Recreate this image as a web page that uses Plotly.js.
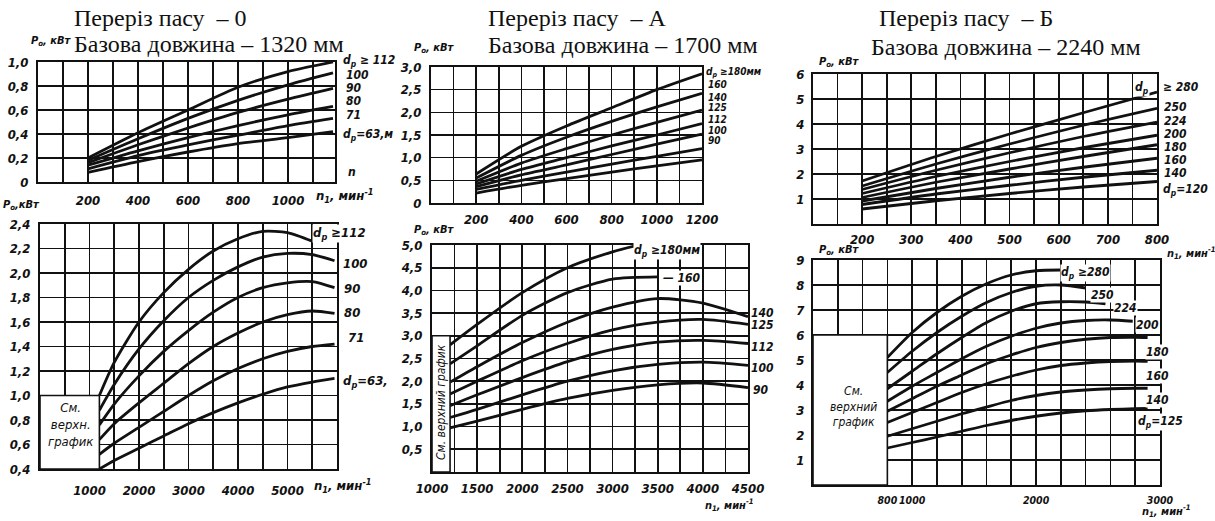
<!DOCTYPE html>
<html><head><meta charset="utf-8">
<script src="https://cdn.plot.ly/plotly-3.0.1.min.js"></script>
<style>html,body{margin:0;padding:0;background:#fff}#c{width:1215px;height:521px}</style>
</head><body><div id="c"></div>
<script>
// ---------- DATA ----------
// Panel "0" top (n1 200..1200)
const nTL = [200, 400, 600, 800, 1000, 1180];
const tl112 = [0.20, 0.41, 0.60, 0.79, 0.92, 1.00];
const tl100 = [0.18, 0.36, 0.53, 0.68, 0.81, 0.91];
const tl90  = [0.16, 0.31, 0.45, 0.58, 0.69, 0.78];
const tl80  = [0.14, 0.26, 0.37, 0.47, 0.56, 0.63];
const tl71  = [0.11, 0.22, 0.31, 0.39, 0.47, 0.53];
const tl63  = [0.08, 0.17, 0.25, 0.32, 0.37, 0.42];
// Panel "0" bottom
const nBL = [1200, 1500, 2000, 2500, 3000, 3500, 4000, 4500, 5000, 5500, 5950];
const bl112 = [1.00, 1.27, 1.60, 1.84, 2.03, 2.18, 2.28, 2.34, 2.33, 2.26, null];
const bl100 = [0.88, 1.09, 1.38, 1.61, 1.80, 1.94, 2.05, 2.13, 2.16, 2.15, 2.10];
const bl90  = [0.76, 0.93, 1.16, 1.36, 1.53, 1.68, 1.80, 1.88, 1.92, 1.93, 1.88];
const bl80  = [0.64, 0.77, 0.94, 1.10, 1.26, 1.40, 1.51, 1.60, 1.66, 1.69, 1.67];
const bl71  = [0.52, 0.61, 0.74, 0.87, 1.00, 1.12, 1.22, 1.30, 1.36, 1.40, 1.42];
const bl63  = [0.40, 0.47, 0.57, 0.67, 0.77, 0.86, 0.94, 1.01, 1.07, 1.11, 1.14];
// Panel "A" top
const nTM = [200, 400, 600, 800, 1000, 1200];
const tm180 = [0.64, 1.25, 1.70, 2.10, 2.50, 2.85];
const tm160 = [0.55, 1.05, 1.45, 1.80, 2.12, 2.42];
const tm140 = [0.48, 0.88, 1.20, 1.50, 1.78, 2.05];
const tm125 = [0.42, 0.74, 1.00, 1.26, 1.50, 1.75];
const tm112 = [0.36, 0.62, 0.84, 1.07, 1.30, 1.52];
const tm100 = [0.30, 0.50, 0.68, 0.86, 1.03, 1.20];
const tm90  = [0.22, 0.39, 0.54, 0.68, 0.82, 0.95];
// Panel "A" bottom
const nBM = [1200, 1500, 2000, 2500, 3000, 3500, 4000, 4500];
const nBM180 = [1200, 1500, 2000, 2500, 3000, 3250];
const bm180 = [2.80, 3.25, 3.95, 4.50, 4.85, 4.98];
const bm160 = [2.38, 2.78, 3.45, 3.95, 4.25, 4.30, null, null];
const bm140 = [1.98, 2.32, 2.85, 3.30, 3.63, 3.82, 3.72, 3.42];
const bm125 = [1.72, 2.00, 2.45, 2.83, 3.13, 3.30, 3.36, 3.25];
const bm112 = [1.46, 1.70, 2.08, 2.43, 2.70, 2.86, 2.90, 2.83];
const bm100 = [1.20, 1.38, 1.70, 2.00, 2.23, 2.37, 2.42, 2.35];
const bm90  = [0.97, 1.12, 1.38, 1.62, 1.80, 1.92, 1.96, 1.86];
// Panel "Б" top
const nTR = [200, 350, 500, 650, 800];
const tr280 = [1.72, 2.70, 3.60, 4.45, 5.28];
const tr250 = [1.52, 2.40, 3.20, 3.95, 4.63];
const tr224 = [1.38, 2.15, 2.85, 3.50, 4.08];
const tr200 = [1.22, 1.90, 2.50, 3.05, 3.55];
const tr180 = [1.06, 1.67, 2.20, 2.70, 3.17];
const tr160 = [0.92, 1.42, 1.87, 2.27, 2.63];
const tr140 = [0.78, 1.20, 1.55, 1.87, 2.15];
const tr120 = [0.60, 0.93, 1.22, 1.48, 1.70];
// Panel "Б" bottom
const nBR = [800, 1000, 1200, 1400, 1600, 1800, 2000, 2200, 2400, 2600, 2800, 2900];
const nBR224 = [800, 1000, 1200, 1400, 1600, 1800, 2000, 2200, 2400, 2560];
const nBR200 = [800, 1000, 1200, 1400, 1600, 1800, 2000, 2200, 2400, 2600, 2780];
const br280 = [5.10, 6.10, 6.90, 7.55, 8.05, 8.40, 8.57, 8.60];
const br250 = [4.50, 5.35, 6.10, 6.75, 7.30, 7.70, 7.95, 8.00, 7.88];
const br224 = [3.85, 4.55, 5.25, 5.90, 6.50, 6.95, 7.25, 7.33, 7.32, 7.25];
const br200 = [3.35, 3.95, 4.50, 5.05, 5.55, 5.95, 6.27, 6.48, 6.58, 6.60, 6.55];
const br180 = [2.95, 3.45, 3.95, 4.40, 4.85, 5.20, 5.50, 5.70, 5.83, 5.90, 5.91, 5.90];
const br160 = [2.50, 2.90, 3.30, 3.70, 4.05, 4.35, 4.60, 4.78, 4.88, 4.94, 4.96, 4.95];
const br140 = [1.95, 2.25, 2.55, 2.85, 3.12, 3.38, 3.58, 3.72, 3.80, 3.85, 3.87, 3.87];
const br125 = [1.48, 1.70, 1.92, 2.15, 2.38, 2.58, 2.75, 2.88, 2.97, 3.02, 3.05, 3.06];

// Tick labels
const xTL_vals = [200, 400, 600, 800, 1000], xTL_txt = ['200','400','600','800','1000'];
const yTL_vals = [0, 0.2, 0.4, 0.6, 0.8, 1.0], yTL_txt = ['0','0,2','0,4','0,6','0,8','1,0'];
const xBL_vals = [1000, 2000, 3000, 4000, 5000], xBL_txt = ['1000','2000','3000','4000','5000'];
const yBL_vals = [0.4,0.6,0.8,1.0,1.2,1.4,1.6,1.8,2.0,2.2,2.4];
const yBL_txt = ['0,4','0,6','0,8','1,0','1,2','1,4','1,6','1,8','2,0','2,2','2,4'];
const xTM_vals = [200,400,600,800,1000,1200], xTM_txt = ['200','400','600','800','1000','1200'];
const yTM_vals = [0,0.5,1,1.5,2,2.5,3], yTM_txt = ['0','0,5','1,0','1,5','2,0','2,5','3,0'];
const xBM_vals = [1000,1500,2000,2500,3000,3500,4000,4500];
const xBM_txt = ['1000','1500','2000','2500','3000','3500','4000','4500'];
const yBM_vals = [0.5,1,1.5,2,2.5,3,3.5,4,4.5,5];
const yBM_txt = ['0,5','1,0','1,5','2,0','2,5','3,0','3,5','4,0','4,5','5,0'];
const xTR_vals = [200,300,400,500,600,700,800], xTR_txt = ['200','300','400','500','600','700','800'];
const yTR_vals = [1,2,3,4,5,6], yTR_txt = ['1','2','3','4','5','6'];
const xBR_vals = [800,1000,2000,3000], xBR_txt = ['800','1000','2000','3000'];
const yBR_vals = [1,2,3,4,5,6,7,8,9], yBR_txt = ['1','2','3','4','5','6','7','8','9'];

// ---------- LAYOUT HELPERS ----------
const W = 1215, H = 521;
const INK = '#111';
const FAM = "'Liberation Sans Narrow','DejaVu Sans Condensed',sans-serif";
const TF = {family:FAM, size:13, color:INK, weight:'bold', style:'italic'};
const LF = {family:FAM, size:12, color:INK, weight:'bold', style:'italic'};
const SF = {family:"'Liberation Serif','DejaVu Serif',serif", size:24, color:INK};
const it = s => '<i>' + s + '</i>';

function grid(a, b, s){const r=[];for(let v=a; v<=b+1e-9; v+=s) r.push(Math.round(v*1000)/1000);return r;}
function axis(x0, x1, range, step, vals, txt, stand, isY, anchor, fsize){
  const g = grid(Math.ceil(range[0]/step-1e-9)*step, range[1], step);
  return {
    domain: isY ? [1 - x1/H, 1 - x0/H] : [x0/W, x1/W],
    range: range, anchor: anchor, tickmode:'array', tickvals:vals, ticktext: txt.map(it),
    tickangle:0,
    showgrid:true, gridcolor:INK, gridwidth:1.6, zeroline:false,
    minor:{tickmode:'array', tickvals:g, showgrid:true, gridcolor:INK, gridwidth:1.6, ticks:''},
    showline:true, mirror:true, linecolor:INK, linewidth:2,
    ticks:'', tickfont:Object.assign({}, TF, fsize ? {size:fsize} : {}), ticklabelstandoff:stand, fixedrange:true
  };
}

const traces = [];
function curve(xa, ya, n, v){
  traces.push({type:'scatter', mode:'lines', x:n, y:v, xaxis:xa, yaxis:ya,
    line:{color:INK, width:2.8, shape:'spline', smoothing:0.7}, hoverinfo:'skip', showlegend:false});
}
[tl112,tl100,tl90,tl80,tl71,tl63].forEach(s=>curve('x','y',nTL,s));
[bl112,bl100,bl90,bl80,bl71,bl63].forEach(s=>curve('x2','y2',nBL,s));
[tm180,tm160,tm140,tm125,tm112,tm100,tm90].forEach(s=>curve('x3','y3',nTM,s));
curve('x4','y4',nBM180,bm180);
[bm160,bm140,bm125,bm112,bm100,bm90].forEach(s=>curve('x4','y4',nBM,s));
[tr280,tr250,tr224,tr200,tr180,tr160,tr140,tr120].forEach(s=>curve('x5','y5',nTR,s));
curve('x6','y6',nBR,br280); curve('x6','y6',nBR,br250);
curve('x6','y6',nBR224,br224); curve('x6','y6',nBR200,br200);
[br180,br160,br140,br125].forEach(s=>curve('x6','y6',nBR,s));

const ann = [];
function A(text, x, y, font, xa, extra, plain){
  ann.push(Object.assign({text: plain ? text : it(text), x:x/W, y:1-y/H, xref:'paper', yref:'paper', showarrow:false,
    xanchor:xa||'left', yanchor:'middle', font:font||LF, borderpad:0}, extra||{}));
}
const WB = {bgcolor:'#fff'};
// titles
A('Переріз пасу \u00a0– 0', 73, 18, SF, 'left', {}, true); A('Базова довжина – 1320 мм', 73, 44, SF, 'left', {}, true);
A('Переріз пасу \u00a0– А', 487, 18, SF, 'left', {}, true); A('Базова довжина – 1700 мм', 487, 45, SF, 'left', {}, true);
A('Переріз пасу \u00a0– Б', 878, 18, SF, 'left', {}, true); A('Базова довжина – 2240 мм', 870, 47, SF, 'left', {}, true);
// axis names
const PF = Object.assign({}, LF, {size:11});
const LS = Object.assign({}, LF, {size:10});
A('P<sub>о</sub>, кВт', 72, 41, PF, 'right'); A('P<sub>о</sub>,кВт', 2, 205, PF);
A('P<sub>о</sub>, кВт', 413, 48, PF); A('P<sub>о</sub>, кВт', 413, 230, PF);
A('P<sub>о</sub>, кВт', 818, 62, PF); A('P<sub>о</sub>, кВт', 818, 250, PF);
A('n<sub>1</sub>, мин<sup>-1</sup>', 315, 196, TF); A('n<sub>1</sub>, мин<sup>-1</sup>', 313, 486, TF);
A('n<sub>1</sub>, мин<sup>-1</sup>', 704, 505, PF); A('n<sub>1</sub>, мин<sup>-1</sup>', 1166, 253, PF);
A('n<sub>1</sub>, мин<sup>-1</sup>', 1141, 511, PF);
// curve labels: 0 top
A('d<sub>p</sub> ≥ 112', 342, 61); A('100', 345, 75); A('90', 345, 88); A('80', 345, 101);
A('71', 345, 115); A('d<sub>p</sub>=63,м', 342, 135); A('n', 347, 172);
// 0 bottom
A('d<sub>p</sub> ≥112', 312, 233, TF, 'left', WB); A('100', 342, 263, TF); A('90', 343, 288, TF);
A('80', 343, 312, TF); A('71', 347, 337, TF); A('d<sub>p</sub>=63,', 342, 381, TF);
// A top
A('d<sub>p</sub> ≥180мм', 705, 72, LS); A('160', 707, 85, LS); A('140', 707, 97, LS); A('125', 707, 108, LS);
A('112', 707, 119, LS); A('100', 707, 130, LS); A('90', 707, 141, LS);
// A bottom
A('d<sub>p</sub> ≥180мм', 633, 251, LF, 'left', WB); A('— 160', 662, 278, LF, 'left', WB);
A('140', 750, 313); A('125', 750, 325); A('112', 750, 347); A('100', 750, 368); A('90', 752, 390);
// Б top
A('d<sub>p</sub>', 1134, 88, LF, 'left', WB); A('≥ 280', 1162, 87); A('250', 1163, 107); A('224', 1163, 121);
A('200', 1163, 134); A('180', 1163, 147); A('160', 1163, 160); A('140', 1163, 173); A('d<sub>p</sub>=120', 1162, 190);
// Б bottom
A('d<sub>p</sub> ≥280', 1060, 273, LF, 'left', WB); A('250', 1090, 295, LF, 'left', WB);
A('224', 1113, 308, LF, 'left', WB); A('200', 1135, 325, LF, 'left', WB);
A('180', 1145, 352, LF, 'left', WB); A('160', 1145, 376, LF, 'left', WB);
A('140', 1145, 400, LF, 'left', WB); A('d<sub>p</sub>=125', 1137, 422, LF, 'left', WB);
// boxes text
const BF = Object.assign({}, LF, {weight:'normal', size:13});
A('См.<br>верхн.<br>график', 70, 424, BF, 'center');
A('См. верхний график', 441, 402, Object.assign({}, BF, {size:12}), 'center', {textangle:-90});
A('См.<br>верхний<br>график', 853, 406, Object.assign({}, BF, {size:12}), 'center');

const shapes = [
  {type:'rect', xref:'x2', yref:'y2', x0:0, x1:1200, y0:0.4, y1:1.0, fillcolor:'#fff', line:{color:INK, width:1.6}, layer:'above'},
  {type:'rect', xref:'x4', yref:'y4', x0:1000, x1:1200, y0:0, y1:3.0, fillcolor:'#fff', line:{color:INK, width:1.6}, layer:'above'},
  {type:'rect', xref:'x6', yref:'y6', x0:200, x1:800, y0:0, y1:6, fillcolor:'#fff', line:{color:INK, width:1.6}, layer:'above'}
];

const layout = {
  width:W, height:H, margin:{l:0,r:0,t:0,b:0}, paper_bgcolor:'#fff', plot_bgcolor:'#fff',
  showlegend:false, annotations:ann, shapes:shapes,
  xaxis:  axis(38, 335, [0,1188], 100, xTL_vals, xTL_txt, 5, false, 'y'),
  yaxis:  axis(62, 182, [0,1], 0.2, yTL_vals, yTL_txt, 5, true, 'x'),
  xaxis2: axis(40, 337, [0,6000], 500, xBL_vals, xBL_txt, 8, false, 'y2'),
  yaxis2: axis(224, 469, [0.4,2.4], 0.2, yBL_vals, yBL_txt, 5, true, 'x2'),
  xaxis3: axis(431, 702, [0,1200], 100, xTM_vals, xTM_txt, 3, false, 'y3'),
  yaxis3: axis(67, 203, [0,3], 0.5, yTM_vals, yTM_txt, 5, true, 'x3'),
  xaxis4: axis(432, 748, [1000,4500], 250, xBM_vals, xBM_txt, 3, false, 'y4'),
  yaxis4: axis(245, 472, [0,5], 0.5, yBM_vals, yBM_txt, 5, true, 'x4'),
  xaxis5: axis(813, 1157, [100,800], 50, xTR_vals, xTR_txt, 2, false, 'y5'),
  yaxis5: axis(74, 224, [0,6], 1, yTR_vals, yTR_txt, 4, true, 'x5'),
  xaxis6: axis(813, 1160, [200,3000], 200, xBR_vals, xBR_txt, 4, false, 'y6', 10.5),
  yaxis6: axis(260, 485, [0,9], 1, yBR_vals, yBR_txt, 4, true, 'x6')
};
Plotly.newPlot('c', traces, layout, {staticPlot:true, displayModeBar:false});
</script></body></html>
